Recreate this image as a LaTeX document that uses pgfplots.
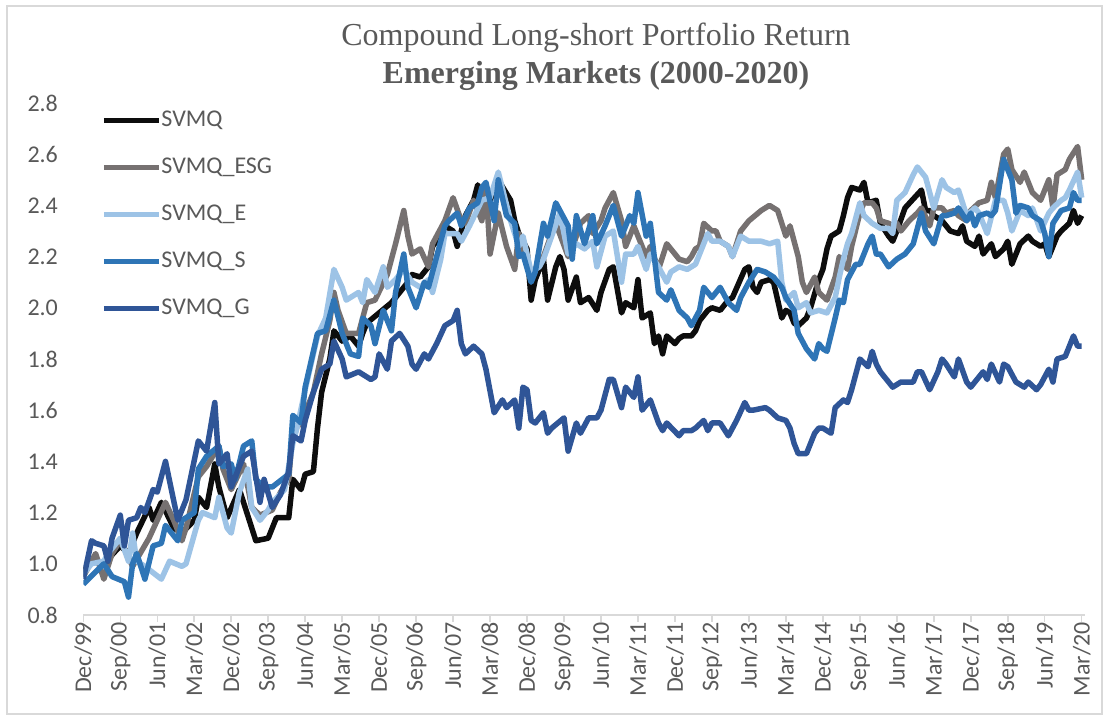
\documentclass[border=0pt]{standalone}
\usepackage{pgfplots}
\pgfplotsset{compat=1.18}
\usepackage{fontspec}
\setmainfont{Carlito}
\newfontfamily\titlefont{Liberation Serif}

\definecolor{txt}{HTML}{595959}
\definecolor{axgray}{HTML}{D9D9D9}
\definecolor{cSVMQ}{HTML}{0D0D0D}
\definecolor{cESG}{HTML}{767171}
\definecolor{cE}{HTML}{9DC3E6}
\definecolor{cS}{HTML}{2E75B6}
\definecolor{cG}{HTML}{2F5597}

\begin{document}
\begin{tikzpicture}
\begin{axis}[
  scale only axis,
  width=500.85pt, height=256pt,
  xmin=0, xmax=243.8, ymin=0.8, ymax=2.8,
  axis lines*=left,
  x axis line style={-, draw=axgray, line width=0.75pt},
  y axis line style={draw=none},
  tick align=outside,
  major tick length=3.5pt,
  xtick style={draw=axgray, line width=0.75pt},
  ytick style={draw=none},
  xtick={0,9,...,243},
  xticklabels={Dec/99,Sep/00,Jun/01,Mar/02,Dec/02,Sep/03,Jun/04,Mar/05,Dec/05,Sep/06,Jun/07,Mar/08,Dec/08,Sep/09,Jun/10,Mar/11,Dec/11,Sep/12,Jun/13,Mar/14,Dec/14,Sep/15,Jun/16,Mar/17,Dec/17,Sep/18,Jun/19,Mar/20},
  ytick={0.8,1.0,1.2,1.4,1.6,1.8,2.0,2.2,2.4,2.6,2.8},
  y tick label style={/pgf/number format/fixed, /pgf/number format/fixed zerofill, /pgf/number format/precision=1},
  /pgf/number format/assume math mode=true,
  tick label style={font=\fontsize{12}{14}\selectfont, text=txt},
  xticklabel style={rotate=90, anchor=east, inner sep=0pt},
  yticklabel style={anchor=east, inner sep=0pt, xshift=-9pt},
  legend cell align=left,
  legend style={draw=none, fill=none, at={(0,1)}, anchor=north west,
    xshift=8.85pt, yshift=-3pt, inner sep=0pt,
    font=\fontsize{12}{14}\selectfont, text=txt,
    row sep=12.5pt, column sep=0pt,
    nodes={inner sep=0pt, text height=8.5pt, text depth=2.5pt}},
  legend image code/.code={\draw[#1, line width=2.5pt] (0pt,0pt) -- (27.5pt,0pt);},
  every axis plot/.append style={line width=2.75pt, line join=round, no markers},
]
\addplot[cSVMQ] coordinates {
(0,0.97)(2,1.01)(5,1.00)(9,1.07)(11,1.04)(13,1.12)(16,1.22)(17,1.17)(19,1.24)(22,1.14)(24,1.12)(27,1.17)(28,1.26)(30,1.22)(32,1.39)(33,1.30)(35,1.18)(38,1.29)(42,1.09)(45,1.10)(47,1.18)(50,1.18)(51,1.33)(53,1.29)(54,1.35)(56,1.36)(57,1.53)(58,1.67)(60,1.80)(61,1.91)(63,1.87)(65,1.89)(67,1.85)(68,1.90)(69,1.94)(72,1.98)(75,2.02)(77,2.06)(79,2.10)(80,2.13)(82,2.12)(84,2.16)(85,2.24)(87,2.28)(88,2.32)(90,2.30)(91,2.24)(93,2.36)(95,2.42)(96,2.48)(97,2.44)(99,2.42)(101,2.50)(104,2.42)(105,2.34)(106,2.29)(108,2.23)(109,2.03)(110,2.11)(112,2.19)(113,2.03)(115,2.16)(116,2.20)(117,2.15)(118,2.03)(120,2.12)(121,2.02)(123,2.04)(125,1.99)(126,2.06)(128,2.15)(129,2.16)(131,1.98)(132,2.02)(134,2.00)(135,2.11)(136,1.96)(138,1.98)(139,1.86)(140,1.89)(141,1.82)(142,1.89)(144,1.86)(145,1.88)(146,1.89)(148,1.89)(149,1.91)(150,1.95)(152,1.99)(153,2.00)(155,1.99)(157,2.03)(158,2.04)(161,2.15)(162,2.16)(163,2.08)(164,2.06)(165,2.10)(167,2.11)(168,2.10)(170,1.96)(171,1.99)(172,1.98)(173,1.94)(174,1.93)(176,1.96)(177,2.00)(179,2.11)(180,2.15)(181,2.23)(182,2.28)(184,2.30)(185,2.36)(186,2.43)(187,2.47)(189,2.46)(190,2.49)(191,2.41)(193,2.42)(194,2.33)(196,2.28)(197,2.26)(198,2.30)(200,2.39)(204,2.46)(205,2.38)(206,2.38)(207,2.36)(209,2.34)(211,2.30)(213,2.29)(214,2.32)(215,2.26)(217,2.24)(218,2.28)(219,2.21)(221,2.25)(222,2.20)(224,2.23)(225,2.26)(226,2.17)(228,2.25)(230,2.28)(231,2.26)(233,2.24)(234,2.25)(235,2.20)(237,2.28)(238,2.30)(240,2.33)(241,2.38)(242,2.33)(243,2.36)
};
\addlegendentry{SVMQ}
\addplot[cESG] coordinates {
(0,0.95)(3,1.04)(5,0.94)(7,1.04)(9,1.09)(12,0.99)(16,1.10)(20,1.24)(22,1.17)(24,1.09)(25,1.14)(28,1.34)(30,1.38)(33,1.46)(34,1.37)(36,1.29)(39,1.39)(41,1.22)(43,1.19)(46,1.21)(48,1.28)(50,1.33)(51,1.52)(53,1.55)(56,1.67)(58,1.82)(60,1.95)(61,2.06)(62,1.99)(64,1.90)(67,1.90)(69,2.02)(71,2.03)(74,2.13)(76,2.25)(78,2.38)(79,2.28)(80,2.21)(82,2.23)(84,2.16)(85,2.25)(88,2.34)(90,2.43)(92,2.34)(93,2.33)(95,2.42)(97,2.34)(98,2.48)(99,2.21)(101,2.37)(103,2.24)(105,2.15)(106,2.29)(109,2.11)(111,2.19)(112,2.20)(114,2.29)(115,2.33)(118,2.20)(119,2.23)(121,2.33)(123,2.36)(124,2.29)(126,2.34)(127,2.39)(129,2.45)(131,2.34)(132,2.24)(134,2.32)(135,2.28)(137,2.20)(138,2.24)(140,2.15)(142,2.25)(145,2.19)(147,2.18)(148,2.20)(149,2.23)(150,2.24)(151,2.33)(153,2.30)(154,2.30)(155,2.26)(157,2.24)(158,2.20)(160,2.30)(162,2.34)(165,2.38)(167,2.40)(169,2.38)(170,2.33)(171,2.28)(172,2.32)(174,2.20)(175,2.10)(176,2.06)(178,2.12)(179,2.06)(181,2.03)(183,2.12)(184,2.20)(186,2.15)(187,2.24)(189,2.37)(190,2.41)(192,2.41)(193,2.39)(194,2.34)(196,2.33)(197,2.32)(198,2.33)(199,2.30)(201,2.34)(203,2.37)(204,2.39)(206,2.32)(207,2.39)(209,2.39)(210,2.37)(212,2.38)(213,2.36)(215,2.34)(216,2.38)(218,2.41)(220,2.42)(221,2.49)(222,2.43)(224,2.60)(225,2.62)(226,2.54)(228,2.49)(229,2.53)(231,2.45)(233,2.42)(235,2.50)(236,2.39)(237,2.52)(239,2.54)(240,2.58)(242,2.63)(243,2.50)
};
\addlegendentry{SVMQ\_ESG}
\addplot[cE] coordinates {
(0,0.96)(2,1.00)(5,1.01)(6,1.04)(9,1.10)(11,1.01)(12,1.12)(13,1.01)(15,0.99)(19,0.94)(21,1.01)(24,0.99)(25,1.00)(28,1.17)(29,1.20)(32,1.18)(33,1.26)(35,1.14)(36,1.12)(38,1.28)(40,1.37)(41,1.22)(43,1.17)(45,1.21)(46,1.24)(49,1.29)(51,1.47)(52,1.53)(54,1.68)(57,1.89)(59,1.96)(61,2.15)(63,2.08)(64,2.03)(67,2.06)(68,2.02)(69,2.11)(71,2.06)(73,2.16)(74,2.08)(76,2.11)(78,2.15)(80,2.10)(82,2.08)(84,2.11)(85,2.06)(87,2.19)(88,2.29)(91,2.29)(92,2.26)(94,2.32)(97,2.42)(99,2.43)(101,2.53)(104,2.34)(106,2.24)(107,2.28)(109,2.14)(111,2.16)(112,2.19)(114,2.28)(116,2.37)(118,2.21)(120,2.25)(122,2.23)(124,2.26)(125,2.16)(127,2.28)(129,2.30)(131,2.10)(132,2.21)(134,2.21)(135,2.24)(137,2.15)(138,2.21)(140,2.16)(142,2.10)(143,2.14)(145,2.16)(147,2.15)(149,2.17)(150,2.21)(152,2.29)(153,2.26)(155,2.26)(157,2.24)(158,2.20)(160,2.28)(162,2.26)(165,2.26)(167,2.25)(169,2.26)(170,2.10)(171,2.03)(173,2.06)(174,2.00)(176,2.02)(177,1.98)(179,1.99)(181,1.98)(183,2.04)(184,2.12)(185,2.19)(186,2.25)(187,2.29)(189,2.41)(190,2.36)(192,2.33)(194,2.31)(196,2.31)(197,2.29)(198,2.42)(200,2.45)(202,2.52)(203,2.55)(205,2.51)(207,2.39)(209,2.50)(210,2.47)(212,2.45)(213,2.46)(215,2.36)(217,2.39)(218,2.37)(220,2.29)(222,2.42)(224,2.42)(225,2.37)(226,2.30)(228,2.38)(230,2.36)(231,2.39)(233,2.30)(235,2.37)(236,2.39)(238,2.42)(239,2.43)(240,2.46)(242,2.53)(243,2.43)
};
\addlegendentry{SVMQ\_E}
\addplot[cS] coordinates {
(0,0.92)(5,1.00)(7,0.95)(10,0.93)(11,0.87)(12,1.00)(13,1.04)(15,0.94)(17,1.07)(19,1.08)(20,1.15)(23,1.09)(24,1.17)(27,1.20)(28,1.37)(30,1.42)(33,1.46)(34,1.38)(36,1.39)(37,1.33)(39,1.46)(41,1.48)(42,1.33)(44,1.30)(46,1.30)(50,1.35)(51,1.58)(53,1.55)(54,1.69)(57,1.90)(59,1.91)(61,2.03)(63,1.90)(65,1.82)(67,1.81)(68,1.96)(70,1.93)(71,1.86)(73,1.99)(75,1.91)(76,2.06)(78,2.21)(79,2.08)(80,2.04)(81,2.00)(83,2.10)(84,2.08)(86,2.20)(88,2.32)(89,2.34)(91,2.37)(92,2.32)(94,2.39)(96,2.41)(97,2.47)(98,2.49)(100,2.34)(101,2.50)(103,2.36)(105,2.33)(106,2.20)(107,2.21)(109,2.10)(110,2.14)(112,2.33)(113,2.28)(115,2.41)(118,2.32)(119,2.19)(120,2.36)(122,2.25)(124,2.36)(125,2.25)(127,2.32)(129,2.40)(131,2.28)(133,2.36)(134,2.33)(135,2.45)(137,2.28)(138,2.33)(140,2.06)(142,2.03)(143,2.07)(145,1.99)(147,1.96)(148,1.93)(150,1.99)(151,2.08)(153,2.04)(154,2.06)(155,2.08)(157,2.02)(159,1.99)(160,2.04)(162,2.10)(164,2.15)(166,2.14)(168,2.12)(170,2.08)(171,2.04)(173,1.99)(174,1.90)(176,1.84)(178,1.80)(179,1.86)(180,1.84)(181,1.83)(183,1.96)(184,2.03)(185,2.02)(186,2.11)(188,2.17)(189,2.17)(191,2.25)(192,2.28)(193,2.21)(194,2.21)(196,2.16)(198,2.19)(200,2.21)(202,2.25)(204,2.37)(205,2.30)(207,2.25)(209,2.36)(210,2.36)(212,2.37)(213,2.39)(215,2.34)(216,2.37)(217,2.32)(218,2.36)(220,2.37)(221,2.36)(222,2.38)(224,2.58)(226,2.50)(227,2.37)(228,2.40)(230,2.39)(231,2.36)(233,2.34)(234,2.29)(235,2.20)(236,2.33)(238,2.38)(240,2.39)(241,2.45)(242,2.42)(243,2.42)
};
\addlegendentry{SVMQ\_S}
\addplot[cG] coordinates {
(0,0.94)(2,1.09)(3,1.08)(5,1.07)(6,1.01)(7,1.10)(9,1.19)(10,1.07)(11,1.17)(13,1.18)(14,1.22)(15,1.20)(17,1.29)(18,1.28)(19,1.34)(20,1.40)(23,1.17)(25,1.25)(28,1.48)(30,1.44)(32,1.63)(33,1.39)(35,1.43)(36,1.30)(39,1.42)(41,1.44)(43,1.24)(44,1.33)(46,1.22)(48,1.27)(50,1.36)(51,1.50)(53,1.48)(54,1.56)(56,1.67)(58,1.76)(60,1.78)(61,1.87)(63,1.80)(64,1.73)(67,1.75)(70,1.72)(71,1.73)(72,1.82)(74,1.76)(75,1.87)(77,1.90)(79,1.85)(80,1.78)(81,1.76)(83,1.82)(84,1.80)(86,1.86)(88,1.93)(90,1.95)(91,1.99)(92,1.86)(93,1.82)(95,1.85)(97,1.82)(98,1.76)(100,1.59)(102,1.64)(103,1.61)(105,1.64)(106,1.53)(107,1.69)(108,1.68)(109,1.56)(110,1.55)(112,1.59)(113,1.51)(114,1.53)(117,1.57)(118,1.44)(120,1.55)(121,1.51)(123,1.57)(125,1.57)(126,1.60)(128,1.72)(129,1.72)(131,1.61)(132,1.69)(134,1.65)(135,1.73)(136,1.60)(138,1.64)(140,1.55)(141,1.52)(142,1.55)(145,1.50)(146,1.52)(148,1.52)(149,1.53)(151,1.56)(152,1.52)(153,1.55)(155,1.55)(157,1.50)(158,1.53)(159,1.56)(161,1.63)(162,1.60)(163,1.60)(166,1.61)(167,1.60)(169,1.57)(171,1.56)(172,1.53)(173,1.47)(174,1.43)(176,1.43)(178,1.51)(179,1.53)(180,1.53)(182,1.51)(183,1.61)(185,1.64)(186,1.63)(187,1.68)(188,1.74)(189,1.80)(191,1.77)(192,1.83)(193,1.78)(194,1.75)(196,1.71)(197,1.69)(199,1.71)(202,1.71)(203,1.75)(204,1.75)(206,1.68)(208,1.75)(209,1.80)(210,1.78)(212,1.73)(213,1.80)(215,1.71)(216,1.69)(218,1.73)(219,1.75)(220,1.72)(221,1.78)(223,1.71)(224,1.78)(225,1.77)(227,1.71)(229,1.69)(230,1.71)(232,1.68)(233,1.70)(235,1.76)(236,1.71)(237,1.80)(239,1.81)(240,1.85)(241,1.89)(242,1.85)(243,1.85)
};
\addlegendentry{SVMQ\_G}
\end{axis}
% title
\node[anchor=base, text=txt, font=\titlefont\fontsize{16}{19}\selectfont] at (256.35pt,284.5pt) {Compound Long-short Portfolio Return};
\node[anchor=base, text=txt, font=\titlefont\bfseries\fontsize{16}{19}\selectfont] at (256.35pt,265.85pt) {Emerging Markets (2000-2020)};
% chart frame
\draw[axgray, line width=0.6pt] (-38.15pt,-49.5pt) rectangle (509.35pt,304.5pt);
\path (-41.65pt,-53pt) rectangle (512.85pt,307.5pt);
\end{tikzpicture}
\end{document}
